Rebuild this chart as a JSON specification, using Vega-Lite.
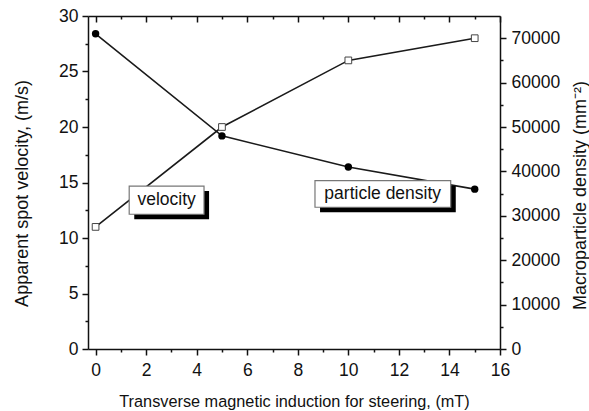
{
  "$schema": "https://vega.github.io/schema/vega-lite/v6.json",
  "width": 412,
  "height": 333,
  "autosize": {"type": "none"},
  "padding": {"left": 88, "top": 16, "right": 89, "bottom": 62},
  "background": "white",
  "datasets": {
    "series": [
      {"B": 0, "velocity": 11, "density": 71000},
      {"B": 5, "velocity": 20, "density": 48000},
      {"B": 10, "velocity": 26, "density": 41000},
      {"B": 15, "velocity": 28, "density": 36000}
    ],
    "boxes": [
      {"label": "velocity", "x1": 1.33, "x2": 4.29, "y1": 12.14, "y2": 14.68, "sx1": 1.53, "sx2": 4.49, "sy1": 11.69, "sy2": 14.23, "tx": 2.81, "ty": 13.41},
      {"label": "particle density", "x1": 8.68, "x2": 14.05, "y1": 12.77, "y2": 15.16, "sx1": 8.88, "sx2": 14.25, "sy1": 12.32, "sy2": 14.71, "tx": 11.36, "ty": 13.97}
    ]
  },
  "layer": [
    {
      "data": {"name": "series"},
      "mark": {"type": "line", "color": "#1a1a1a", "strokeWidth": 1.6},
      "encoding": {
        "x": {"field": "B", "type": "quantitative", "scale": {"domain": [-0.3, 16], "nice": false, "zero": false},
          "axis": {"orient": "bottom", "values": [0, 2, 4, 6, 8, 10, 12, 14, 16], "tickSize": 6, "labelPadding": 6,
            "title": "Transverse magnetic induction for steering, (mT)", "titleFontSize": 16.3, "titleBaseline": "alphabetic", "titleY": 57}},
        "y": {"field": "velocity", "type": "quantitative", "scale": {"domain": [0, 30], "nice": false},
          "axis": {"orient": "left", "values": [0, 5, 10, 15, 20, 25, 30], "tickSize": 6, "labelPadding": 4,
            "title": "Apparent spot velocity, (m/s)", "titleFontSize": 18, "titleBaseline": "alphabetic", "titleAngle": -90, "titleX": -61, "titleY": 177, "titleAlign": "center"}}
      }
    },
    {
      "data": {"name": "series"},
      "mark": {"type": "point", "shape": "square", "filled": true, "fill": "white", "stroke": "#444", "strokeWidth": 1, "size": 45, "opacity": 1},
      "encoding": {
        "x": {"field": "B", "type": "quantitative", "scale": {"domain": [-0.3, 16], "nice": false, "zero": false},
          "axis": {"orient": "bottom", "values": [1, 3, 5, 7, 9, 11, 13, 15], "tickSize": 3, "labels": false, "domain": false, "title": null}},
        "y": {"field": "velocity", "type": "quantitative", "scale": {"domain": [0, 30], "nice": false},
          "axis": {"orient": "left", "values": [2.5, 7.5, 12.5, 17.5, 22.5, 27.5], "tickSize": 3, "labels": false, "domain": false, "title": null}}
      }
    },
    {
      "data": {"name": "series"},
      "mark": {"type": "line", "color": "#1a1a1a", "strokeWidth": 1.6},
      "encoding": {
        "x": {"field": "B", "type": "quantitative", "scale": {"domain": [-0.3, 16], "nice": false, "zero": false},
          "axis": {"orient": "top", "values": [0, 2, 4, 6, 8, 10, 12, 14, 16], "tickSize": -6, "labels": false, "title": null}},
        "y": {"field": "density", "type": "quantitative", "scale": {"domain": [0, 75000], "nice": false},
          "axis": {"orient": "right", "values": [0, 10000, 20000, 30000, 40000, 50000, 60000, 70000], "format": "d", "tickSize": 6, "labelPadding": 5,
            "title": "Macroparticle density (mm⁻²)", "titleFontSize": 18, "titleBaseline": "alphabetic", "titleAngle": -90, "titleX": 85, "titleY": 179, "titleAlign": "center"}}
      }
    },
    {
      "data": {"name": "series"},
      "mark": {"type": "point", "shape": "circle", "filled": true, "color": "#000", "size": 55, "opacity": 1},
      "encoding": {
        "x": {"field": "B", "type": "quantitative", "scale": {"domain": [-0.3, 16], "nice": false, "zero": false},
          "axis": {"orient": "top", "values": [1, 3, 5, 7, 9, 11, 13, 15], "tickSize": -3, "labels": false, "domain": false, "title": null}},
        "y": {"field": "density", "type": "quantitative", "scale": {"domain": [0, 75000], "nice": false},
          "axis": {"orient": "right", "values": [5000, 15000, 25000, 35000, 45000, 55000, 65000], "tickSize": 3, "labels": false, "domain": false, "title": null}}
      }
    },
    {
      "data": {"name": "boxes"},
      "mark": {"type": "rect", "color": "#000"},
      "encoding": {
        "x": {"field": "sx1", "type": "quantitative", "scale": {"domain": [-0.3, 16], "nice": false, "zero": false}, "axis": null},
        "x2": {"field": "sx2"},
        "y": {"field": "sy1", "type": "quantitative", "scale": {"domain": [0, 30], "nice": false}, "axis": null},
        "y2": {"field": "sy2"}
      }
    },
    {
      "data": {"name": "boxes"},
      "mark": {"type": "rect", "fill": "white", "stroke": "#777", "strokeWidth": 1.2},
      "encoding": {
        "x": {"field": "x1", "type": "quantitative", "scale": {"domain": [-0.3, 16], "nice": false, "zero": false}, "axis": null},
        "x2": {"field": "x2"},
        "y": {"field": "y1", "type": "quantitative", "scale": {"domain": [0, 30], "nice": false}, "axis": null},
        "y2": {"field": "y2"}
      }
    },
    {
      "data": {"name": "boxes"},
      "mark": {"type": "text", "font": "Liberation Sans", "fontSize": 17.5, "color": "#111", "align": "center", "baseline": "middle"},
      "encoding": {
        "x": {"field": "tx", "type": "quantitative", "scale": {"domain": [-0.3, 16], "nice": false, "zero": false}, "axis": null},
        "y": {"field": "ty", "type": "quantitative", "scale": {"domain": [0, 30], "nice": false}, "axis": null},
        "text": {"field": "label"}
      }
    }
  ],
  "resolve": {
    "scale": {"y": "independent"},
    "axis": {"x": "independent", "y": "independent"}
  },
  "config": {
    "view": {"stroke": null},
    "axis": {
      "grid": false,
      "domainColor": "#111",
      "domainWidth": 1.5,
      "tickColor": "#111",
      "tickWidth": 1.5,
      "labelFont": "Liberation Sans",
      "labelFontSize": 17.5,
      "labelColor": "#111",
      "labelFlush": false,
      "labelOverlap": false,
      "labelBound": false,
      "titleFont": "Liberation Sans",
      "titleFontWeight": "normal",
      "titleColor": "#111"
    }
  }
}
